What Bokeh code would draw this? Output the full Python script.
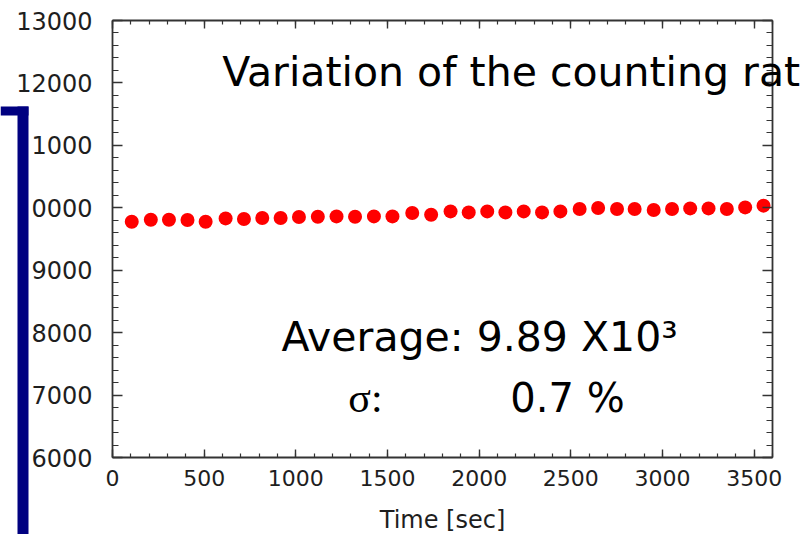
from bokeh.plotting import figure
from bokeh.models import (Range1d, LinearAxis, SingleIntervalTicker, BoxAnnotation,
                          Label, CustomJSTickFormatter)
from bokeh.embed import file_html
from bokeh.resources import INLINE

# ---- data ----
time_s = [105, 209, 308, 409, 508, 617, 717, 817, 917, 1017, 1120, 1222, 1323, 1426,
          1527, 1635, 1738, 1844, 1943, 2044, 2143, 2243, 2343, 2443, 2548, 2649,
          2752, 2848, 2952, 3052, 3151, 3251, 3351, 3451, 3551]
count_rate = [9777, 9809, 9809, 9804, 9777, 9830, 9821, 9837, 9837, 9853, 9857, 9862,
              9857, 9862, 9862, 9917, 9889, 9942, 9926, 9942, 9926, 9942, 9926, 9942,
              9981, 9997, 9981, 9981, 9965, 9981, 9990, 9990, 9981, 10006, 10034]

x_min, x_max = 0, 3600
y_min, y_max = 6000, 13000
y_tick_values = [6000, 7000, 8000, 9000, 10000, 11000, 12000, 13000]
y_tick_texts = ["6000", "7000", "8000", "9000", "0000", "1000", "12000", "13000"]
x_axis_title = "Time [sec]"
title_text = "Variation of the counting rat"
avg_text = "Average: 9.89 X10\u00b3"
sigma_sym = "\u03c3:"
sigma_val = "0.7 %"

# ---- figure: the frame fills the whole slide crop; axes sit at fixed data positions ----
W, H = 806, 534
FL, FR, FT, FB = 112, 772, 20, 457          # pixel box of the chart frame
sx = (FR - FL) / (x_max - x_min)
sy = (FB - FT) / (y_max - y_min)
xr = Range1d(x_min - FL / sx, x_max + (W - FR) / sx)
yr_ = Range1d(y_min - (H - FB) / sy, y_max + FT / sy)

p = figure(width=W, height=H, x_range=xr, y_range=yr_, output_backend="svg",
           toolbar_location=None, x_axis_location=None, y_axis_location=None,
           min_border=0)
p.grid.visible = False
p.outline_line_color = None
p.background_fill_color = "white"
p.border_fill_color = "white"

axis_col = "#333333"
font = "DejaVu Sans"

def style_axis(ax, major_in, minor_in, size):
    ax.axis_line_color = axis_col
    ax.axis_line_width = 1.8
    ax.major_tick_line_color = axis_col
    ax.minor_tick_line_color = axis_col
    ax.major_tick_line_width = 1.4
    ax.minor_tick_line_width = 1.2
    ax.major_tick_in = major_in
    ax.major_tick_out = 0
    ax.minor_tick_in = minor_in
    ax.minor_tick_out = 0
    ax.major_label_text_font = font
    ax.major_label_text_font_size = size
    ax.major_label_text_color = "#1e1e1e"

blank = CustomJSTickFormatter(code="return ''")

xb = LinearAxis(fixed_location=y_min, bounds=(x_min, x_max),
                ticker=SingleIntervalTicker(interval=500, num_minor_ticks=5))
style_axis(xb, 8, 4, "22px")
xb.major_label_standoff = 12
xb.axis_label = x_axis_title
xb.axis_label_text_font = font
xb.axis_label_text_font_size = "24px"
xb.axis_label_text_font_style = "normal"
xb.axis_label_text_color = "#1e1e1e"
xb.axis_label_standoff = 17
p.add_layout(xb, "below")

yl = LinearAxis(fixed_location=x_min, bounds=(y_min, y_max),
                ticker=SingleIntervalTicker(interval=1000, num_minor_ticks=5))
style_axis(yl, 10, 6, "24px")
yl.major_label_standoff = 20
yl.major_label_overrides = {v: t for v, t in zip(y_tick_values, y_tick_texts)}
p.add_layout(yl, "left")

xt = LinearAxis(fixed_location=y_max, bounds=(x_min, x_max), formatter=blank,
                ticker=SingleIntervalTicker(interval=500, num_minor_ticks=5))
style_axis(xt, 8, 4, "22px")
xt.major_label_standoff = 0
p.add_layout(xt, "above")

yr = LinearAxis(fixed_location=x_max, bounds=(y_min, y_max), formatter=blank,
                ticker=SingleIntervalTicker(interval=1000, num_minor_ticks=5))
style_axis(yr, 10, 6, "24px")
yr.major_label_standoff = 0
p.add_layout(yr, "right")

# ---- data points ----
p.scatter(time_s, count_rate, size=14, color="#ff0000", line_color=None)

# ---- slide overlay: navy bracket at the left ----
navy = "#000080"
def px_x(px):
    return x_min + (px - FL) / sx
def px_y(py):
    return y_min + (FB - py) / sy

p.add_layout(BoxAnnotation(left=px_x(17), right=px_x(28), top=px_y(106), bottom=None,
                           fill_color=navy, fill_alpha=1.0, line_color=None))
p.add_layout(BoxAnnotation(left=None, right=px_x(28), top=px_y(106), bottom=px_y(115),
                           fill_color=navy, fill_alpha=1.0, line_color=None))

# ---- slide texts ----
p.add_layout(Label(x=598, y=12170, text=title_text, text_font=font, text_font_size="41px",
                   text_color="black", text_align="left", text_baseline="alphabetic"))
p.add_layout(Label(x=2002, y=7923, text=avg_text, text_font=font, text_font_size="41px",
                   text_color="black", text_align="center", text_baseline="alphabetic"))
p.add_layout(Label(x=1380, y=6961, text=sigma_sym, text_font="Liberation Serif",
                   text_font_size="42px", text_color="black", text_align="center",
                   text_baseline="alphabetic"))
p.add_layout(Label(x=2482, y=6961, text=sigma_val, text_font=font, text_font_size="40px",
                   text_color="black", text_align="center", text_baseline="alphabetic"))

open("out.html", "w").write(file_html(p, INLINE))
